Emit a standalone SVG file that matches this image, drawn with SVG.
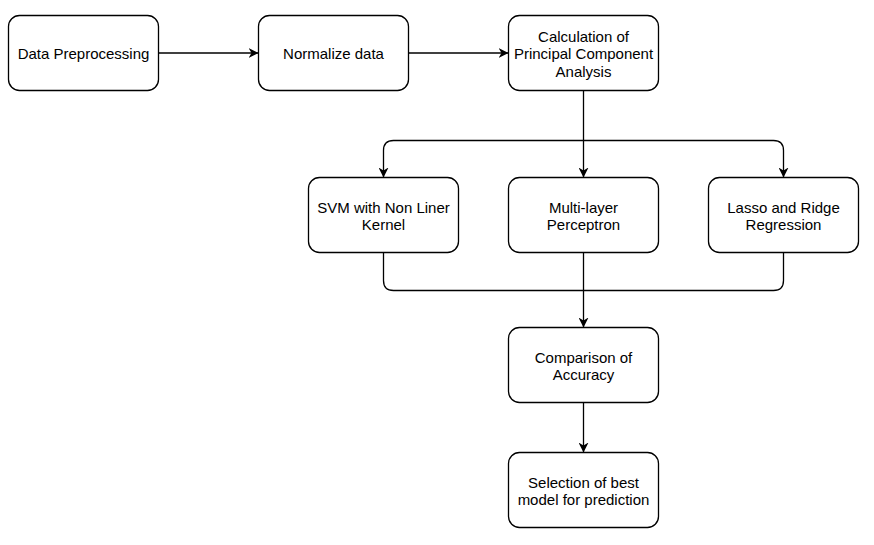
<svg xmlns="http://www.w3.org/2000/svg" width="874" height="545" viewBox="0 0 874 545">
  <style>
    .box { fill: #ffffff; stroke: #000000; stroke-width: 1.3; }
    .lbl { font-family: "Liberation Sans", Arial, Helvetica, sans-serif; font-size: 15px; fill: #000000; text-anchor: middle; dominant-baseline: central; }
    .edge { fill: none; stroke: #000000; stroke-width: 1.3; }
  </style>
  <defs>
    <marker id="arrow" viewBox="0 0 10 10" refX="10" refY="5" markerWidth="10" markerHeight="10" markerUnits="userSpaceOnUse" orient="auto">
      <path d="M0,0 L10,5 L0,10 L3,5 Z" fill="#000000"/>
    </marker>
  </defs>
  <rect width="874" height="545" fill="#ffffff"/>

  <g id="connectors">
    <path class="edge" d="M158.5,53 H258.5" marker-end="url(#arrow)"/>
    <path class="edge" d="M408.5,53 H508.5" marker-end="url(#arrow)"/>
    <path class="edge" d="M583.5,90.5 V177.5" marker-end="url(#arrow)"/>
    <path class="edge" d="M583.5,140.5 H393.5 Q383.5,140.5 383.5,150.5 V177.5" marker-end="url(#arrow)"/>
    <path class="edge" d="M583.5,140.5 H773.5 Q783.5,140.5 783.5,150.5 V177.5" marker-end="url(#arrow)"/>
    <path class="edge" d="M383.5,252.5 V280.5 Q383.5,290.5 393.5,290.5 H583.5"/>
    <path class="edge" d="M783.5,252.5 V280.5 Q783.5,290.5 773.5,290.5 H583.5"/>
    <path class="edge" d="M583.5,252.5 V327.5" marker-end="url(#arrow)"/>
    <path class="edge" d="M583.5,402.5 V452.5" marker-end="url(#arrow)"/>
  </g>

  <g id="data-preprocessing">
    <rect class="box" x="8.5" y="15.5" width="150" height="75" rx="11"/>
    <text class="lbl" x="83.5" y="53.5">Data Preprocessing</text>
  </g>
  <g id="normalize-data">
    <rect class="box" x="258.5" y="15.5" width="150" height="75" rx="11"/>
    <text class="lbl" x="333.5" y="53.5">Normalize data</text>
  </g>
  <g id="pca">
    <rect class="box" x="508.5" y="15.5" width="150" height="75" rx="11"/>
    <text class="lbl" x="583.5" y="36">Calculation of</text>
    <text class="lbl" x="583.5" y="53.5">Principal Component</text>
    <text class="lbl" x="583.5" y="71">Analysis</text>
  </g>
  <g id="svm">
    <rect class="box" x="308.5" y="177.5" width="150" height="75" rx="11"/>
    <text class="lbl" x="383.5" y="207">SVM with Non Liner</text>
    <text class="lbl" x="383.5" y="224.5">Kernel</text>
  </g>
  <g id="mlp">
    <rect class="box" x="508.5" y="177.5" width="150" height="75" rx="11"/>
    <text class="lbl" x="583.5" y="207">Multi-layer</text>
    <text class="lbl" x="583.5" y="224.5">Perceptron</text>
  </g>
  <g id="lasso-ridge">
    <rect class="box" x="708.5" y="177.5" width="150" height="75" rx="11"/>
    <text class="lbl" x="783.5" y="207">Lasso and Ridge</text>
    <text class="lbl" x="783.5" y="224.5">Regression</text>
  </g>
  <g id="comparison">
    <rect class="box" x="508.5" y="327.5" width="150" height="75" rx="11"/>
    <text class="lbl" x="583.5" y="357">Comparison of</text>
    <text class="lbl" x="583.5" y="374.5">Accuracy</text>
  </g>
  <g id="selection">
    <rect class="box" x="508.5" y="452.5" width="150" height="75" rx="11"/>
    <text class="lbl" x="583.5" y="482">Selection of best</text>
    <text class="lbl" x="583.5" y="499.5">model for prediction</text>
  </g>
</svg>
